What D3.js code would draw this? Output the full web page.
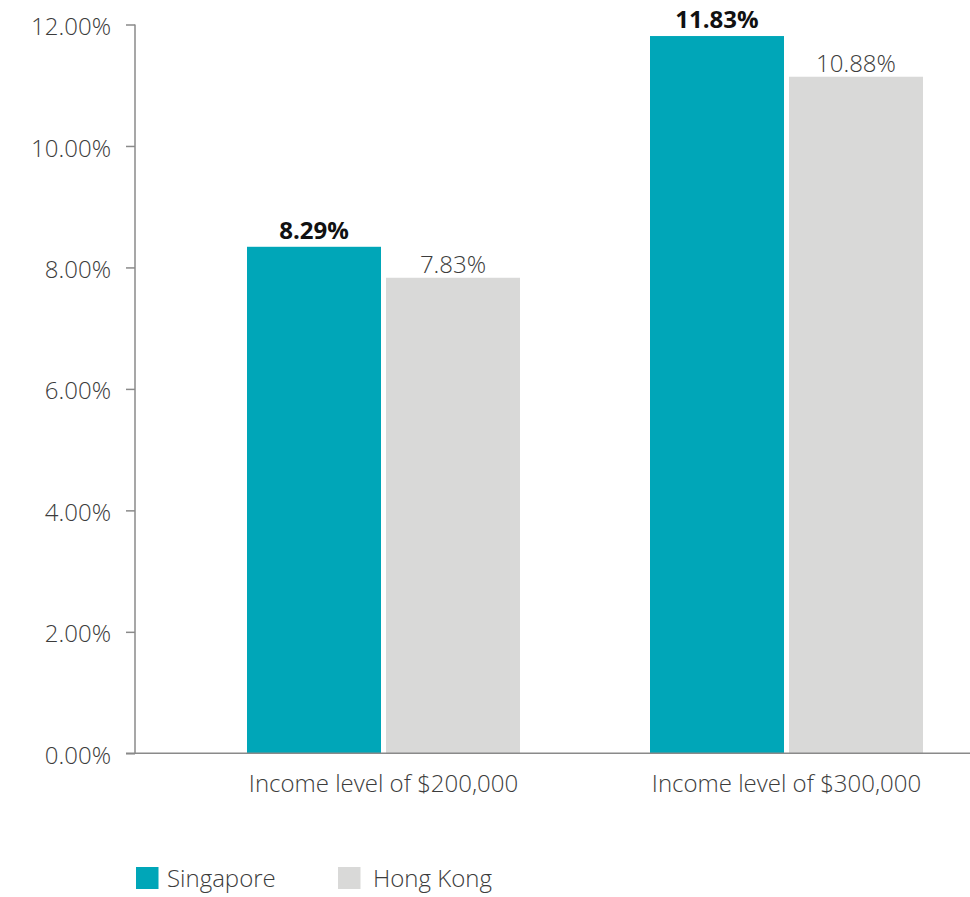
<!DOCTYPE html>
<html>
<head>
<meta charset="utf-8">
<script src="https://cdn.jsdelivr.net/npm/d3@7"></script>
<style>
  body { margin: 0; background: #fff; }
  svg text { font-family: "Open Sans", sans-serif; font-weight: 300; }
</style>
</head>
<body>
<svg></svg>
<script>
// data
var categories = ["Income level of $200,000", "Income level of $300,000"];
var seriesNames = ["Singapore", "Hong Kong"];
var singapore = [8.34, 11.81];
var hongKong = [7.83, 11.14];
var singaporeLabels = ["8.29%", "11.83%"];
var hongKongLabels = ["7.83%", "10.88%"];
var yTicks = [0, 2, 4, 6, 8, 10, 12];
var colors = ["#00a6b8", "#d9d9d8"];

window.onload = function () {
    var width = 970;
    var height = 897;
    var svg = d3.select("svg")
        .attr("width", width)
        .attr("height", height);

    var y = d3.scaleLinear()
        .domain([0, 12])
        .range([753.3, 24.5]);
    var x = d3.scaleBand()
        .domain(categories)
        .range([182, 988]);
    var xInner = d3.scaleBand()
        .domain(seriesNames)
        .range([0, 273])
        .paddingInner(0.036);

    // y axis
    var yAxis = svg.append("g")
        .attr("transform", "translate(135,0)")
        .call(d3.axisLeft(y).tickValues(yTicks).tickSize(9).tickPadding(15)
            .tickFormat(function (d) { return d3.format(".2f")(d) + "%"; }));
    yAxis.selectAll("path, line").attr("stroke", "#8a8a8a").attr("stroke-width", 1.5);
    yAxis.select("path").attr("d", "M0," + y(12) + "V" + y(0));
    yAxis.selectAll("text")
        .attr("fill", "#3c3c3c")
        .attr("font-size", "24px")
        .attr("dy", "0.42em");

    // bars
    var rows = categories.map(function (c, i) {
        return [
            { cat: c, name: seriesNames[0], value: singapore[i], label: singaporeLabels[i] },
            { cat: c, name: seriesNames[1], value: hongKong[i], label: hongKongLabels[i] }
        ];
    });
    var groups = svg.selectAll("g.group")
        .data(rows).enter()
        .append("g")
        .attr("class", "group")
        .attr("transform", function (d, i) {
            return "translate(" + (x(categories[i]) + x.bandwidth() / 2 - 273 / 2) + ",0)";
        });
    groups.selectAll("rect")
        .data(function (d) { return d; }).enter()
        .append("rect")
        .attr("x", function (d) { return xInner(d.name); })
        .attr("y", function (d) { return y(d.value); })
        .attr("width", xInner.bandwidth())
        .attr("height", function (d) { return y(0) - y(d.value); })
        .attr("fill", function (d, i) { return colors[i]; });
    groups.selectAll("text")
        .data(function (d) { return d; }).enter()
        .append("text")
        .attr("x", function (d) { return xInner(d.name) + xInner.bandwidth() / 2; })
        .attr("y", function (d, i) { return y(d.value) - (i == 0 ? 8 : 5); })
        .attr("text-anchor", "middle")
        .attr("font-size", function (d, i) { return i == 0 ? "24px" : "24px"; })
        .style("font-weight", function (d, i) { return i == 0 ? "bold" : "300"; })
        .attr("fill", function (d, i) { return i == 0 ? "#111" : "#3c3c3c"; })
        .text(function (d) { return d.label; });

    // x axis
    var xAxis = svg.append("g")
        .attr("transform", "translate(0," + y(0) + ")")
        .call(d3.axisBottom(x).tickSize(0).tickPadding(0));
    xAxis.select("path").attr("d", "M126,0H970").attr("stroke", "#8a8a8a").attr("stroke-width", 1.5);
    xAxis.selectAll("text")
        .attr("fill", "#3c3c3c")
        .attr("font-size", "24px")
        .attr("y", 38.5)
        .attr("dy", 0);

    // legend
    var legendX = [136, 338];
    var legend = svg.selectAll("g.legend")
        .data(seriesNames).enter()
        .append("g")
        .attr("class", "legend")
        .attr("transform", function (d, i) { return "translate(" + legendX[i] + ",867)"; });
    legend.append("rect")
        .attr("width", 22.5)
        .attr("height", 22)
        .attr("fill", function (d, i) { return colors[i]; });
    legend.append("text")
        .attr("x", function (d, i) { return i == 0 ? 31 : 35; })
        .attr("y", 19.5)
        .attr("font-size", "24px")
        .attr("fill", "#3c3c3c")
        .text(function (d) { return d; });
};
</script>
</body>
</html>
